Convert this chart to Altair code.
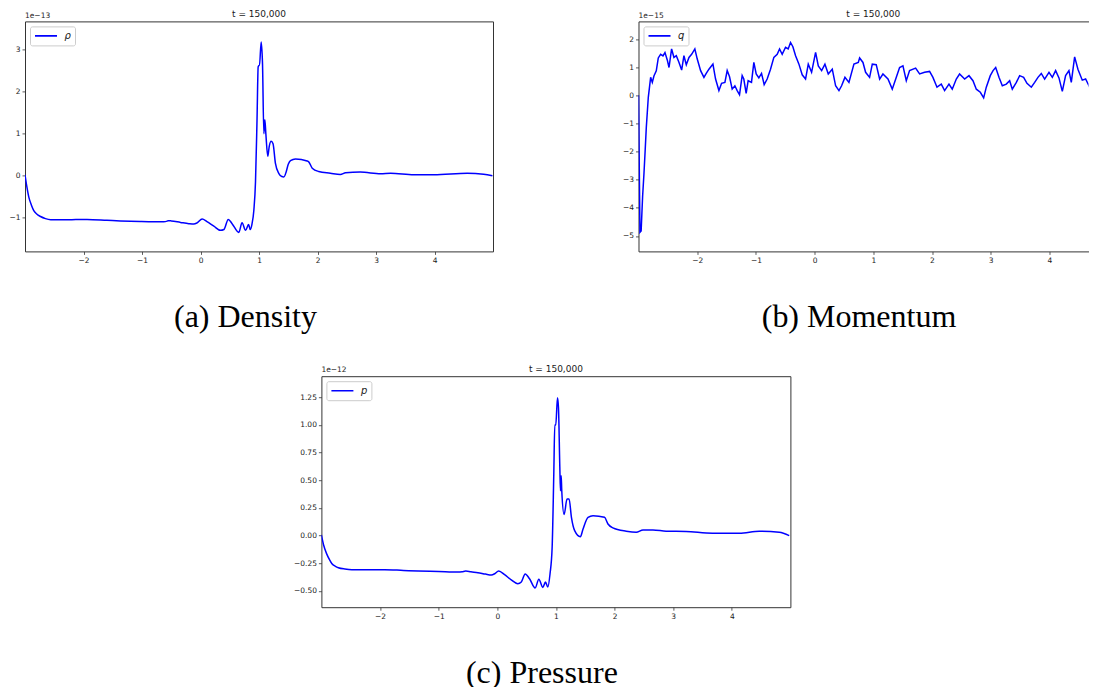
import altair as alt
import pandas as pd

# ---------------- data ----------------
rho_x = [-3.0, -2.97, -2.935, -2.89, -2.85, -2.80, -2.735, -2.65, -2.56, -2.4, -2.2, -1.94,
         -1.6, -1.37, -1.03, -0.8, -0.63, -0.57, -0.552, -0.5, -0.342, -0.2, -0.114, -0.057,
         0.028, 0.11, 0.228, 0.342, 0.4, 0.474, 0.54, 0.655, 0.71, 0.77, 0.822, 0.85, 0.88,
         0.912, 0.94, 0.966, 0.986, 1.0, 1.008, 1.037, 1.06, 1.083, 1.1, 1.117, 1.15, 1.175,
         1.208, 1.24, 1.28, 1.34, 1.39, 1.425, 1.464, 1.50, 1.538, 1.624, 1.823, 1.85, 1.91,
         2.02, 2.22, 2.39, 2.48, 2.73, 3.08, 3.25, 3.646, 3.99, 4.56, 4.84, 4.99]
rho_y = [0.02, -0.25, -0.51, -0.70, -0.83, -0.91, -0.97, -1.02, -1.045, -1.05, -1.045, -1.04,
         -1.06, -1.075, -1.09, -1.095, -1.095, -1.08, -1.07, -1.075, -1.11, -1.14, -1.15, -1.12,
         -1.03, -1.09, -1.20, -1.30, -1.28, -1.04, -1.14, -1.35, -1.12, -1.30, -1.16, -1.28, -1.15,
         -0.82, -0.15, 1.32, 2.59, 2.62, 2.62, 3.18, 2.66, 1.0, 1.33, 1.0, 0.46, 0.70,
         0.82, 0.76, 0.30, 0.05, -0.02, -0.03, 0.09, 0.27, 0.36, 0.40, 0.35, 0.33, 0.18,
         0.10, 0.06, 0.03, 0.07, 0.086, 0.047, 0.06, 0.023, 0.023, 0.06, 0.037, 0.0]

q_x = [-3.0, -2.975, -2.955, -2.93, -2.907, -2.885, -2.867, -2.85, -2.833, -2.793, -2.765,
       -2.737, -2.697, -2.663, -2.623, -2.583, -2.549, -2.51, -2.48, -2.436, -2.396, -2.356,
       -2.31, -2.265, -2.226, -2.186, -2.14, -2.095, -2.04, -1.999, -1.942, -1.885, -1.846,
       -1.80, -1.732, -1.687, -1.63, -1.585, -1.528, -1.489, -1.449, -1.404, -1.358, -1.319,
       -1.279, -1.234, -1.206, -1.166, -1.132, -1.075, -1.035, -0.995, -0.95, -0.904, -0.859,
       -0.808, -0.751, -0.694, -0.637, -0.597, -0.552, -0.495, -0.45, -0.41, -0.37, -0.324,
       -0.267, -0.211, -0.154, -0.108, -0.051, 0.017, 0.063, 0.12, 0.176, 0.233, 0.301, 0.358,
       0.415, 0.46, 0.517, 0.585, 0.67, 0.744, 0.767, 0.824, 0.869, 0.937, 0.983, 1.05, 1.108,
       1.164, 1.25, 1.323, 1.392, 1.448, 1.505, 1.562, 1.618, 1.721, 1.789, 1.874, 1.959,
       2.016, 2.085, 2.158, 2.215, 2.289, 2.345, 2.414, 2.47, 2.556, 2.63, 2.698, 2.755,
       2.823, 2.88, 2.925, 2.993, 3.04, 3.085, 3.141, 3.198, 3.266, 3.323, 3.368, 3.437,
       3.493, 3.561, 3.618, 3.692, 3.749, 3.805, 3.862, 3.919, 3.993, 4.05, 4.106, 4.163,
       4.22, 4.276, 4.333, 4.373, 4.43, 4.486, 4.56, 4.617, 4.674, 4.73, 4.787, 4.84]
q_y = [0.0, -4.87, -4.82, -3.6, -2.79, -1.9, -1.14, -0.6, -0.07, 0.64, 0.46,
       0.69, 0.87, 1.33, 1.46, 1.40, 1.52, 1.26, 0.99, 1.65, 1.35, 1.41,
       1.17, 0.90, 1.41, 1.09, 1.35, 1.46, 1.65, 1.29, 0.88, 0.64, 0.78,
       0.93, 1.11, 0.58, 0.17, 0.43, 0.46, 0.88, 0.66, 0.22, 0.34, 0.17,
       0.02, 0.70, 0.58, 0.07, 0.52, 0.46, 1.17, 0.76, 0.62, 0.78, 0.38,
       0.58, 0.93, 1.35, 1.46, 1.65, 1.46, 1.71, 1.65, 1.88, 1.73, 1.41,
       1.11, 0.73, 0.58, 1.11, 0.82, 1.53, 1.05, 0.88, 1.11, 0.76, 0.93, 0.34,
       0.17, 0.34, 0.64, 0.46, 1.11, 1.17, 1.33, 1.17, 0.82, 0.64, 1.11, 1.09, 0.58,
       0.76, 0.58, 0.22, 0.64, 0.99, 1.05, 0.52, 0.88, 0.97, 0.76, 0.82, 0.85,
       0.64, 0.29, 0.40, 0.17, 0.40, 0.22, 0.58, 0.76, 0.58, 0.70, 0.52, 0.22,
       0.11, -0.09, 0.29, 0.70, 0.88, 0.99, 0.64, 0.34, 0.40, 0.52, 0.22, 0.46,
       0.70, 0.64, 0.43, 0.29, 0.46, 0.64, 0.78, 0.58, 0.82, 0.64, 0.88, 0.62,
       0.14, 0.70, 0.88, 0.46, 1.37, 0.93, 0.54, 0.58, 0.34, 0.76, 0.70, 0.73]

p_x = [-3.0, -2.96, -2.91, -2.86, -2.82, -2.76, -2.71, -2.6, -2.48, -2.2, -1.92, -1.6,
       -1.35, -1.0, -0.668, -0.6, -0.538, -0.45, -0.33, -0.2, -0.10, -0.045, 0.024, 0.125,
       0.238, 0.35, 0.41, 0.476, 0.55, 0.646, 0.709, 0.777, 0.822, 0.862, 0.90, 0.936,
       0.964, 0.981, 0.998, 1.027, 1.044, 1.067, 1.078, 1.09, 1.1, 1.14, 1.19, 1.225,
       1.265, 1.32, 1.418, 1.463, 1.548, 1.633, 1.83, 1.888, 1.973, 2.2, 2.37, 2.486,
       2.656, 2.88, 3.22, 3.67, 4.13, 4.47, 4.81, 4.98]
p_y = [0.005, -0.09, -0.165, -0.22, -0.255, -0.278, -0.29, -0.302, -0.308, -0.308, -0.308, -0.315,
       -0.32, -0.325, -0.33, -0.327, -0.32, -0.327, -0.335, -0.348, -0.356, -0.345, -0.32, -0.353,
       -0.40, -0.435, -0.42, -0.347, -0.39, -0.473, -0.395, -0.468, -0.42, -0.465, -0.345, -0.105,
       0.555, 1.0, 1.0, 1.245, 1.155, 0.615, 0.405, 0.54, 0.405, 0.19, 0.33, 0.33,
       0.165, 0.045, -0.01, 0.06, 0.165, 0.18, 0.165, 0.105, 0.07, 0.04, 0.03, 0.05,
       0.051, 0.04, 0.037, 0.021, 0.021, 0.04, 0.03, 0.0]

x_ticks = [-2, -1, 0, 1, 2, 3, 4]
rho_ticks = [-1, 0, 1, 2, 3]
q_ticks = [-5, -4, -3, -2, -1, 0, 1, 2]
p_ticks = [-0.5, -0.25, 0.0, 0.25, 0.5, 0.75, 1.0, 1.25]

panel_title = "t = 150,000"
captions = ["(a) Density", "(b) Momentum", "(c) Pressure"]
names = ["ρ", "q", "p"]
exponents = ["1e\u221213", "1e\u221215", "1e\u221212"]

SANS = "DejaVu Sans"
SERIF = "Liberation Serif"
BLUE = "#0000ff"
INK = "#1a1a1a"
SPINE = "#333333"


def panel(xs, ys, name, caption, exponent, xdom, ydom, yticks, yfmt, w, h, interp,
          open_right=False, title_x=None):
    df = pd.DataFrame({"x": xs, "y": ys, "series": name})
    xscale = alt.Scale(domain=xdom, nice=False, zero=False)
    yscale = alt.Scale(domain=ydom, nice=False, zero=False)
    line = alt.Chart(df).mark_line(strokeWidth=1.5, interpolate=interp, clip=True).encode(
        x=alt.X("x:Q", scale=xscale,
                axis=alt.Axis(values=x_ticks, format="d", title=caption,
                              titleFont=SERIF, titleFontSize=32, titleFontWeight="normal",
                              titleColor="black", titleX=220, titleY=75,
                              titleAlign="center", titleBaseline="alphabetic",
                              domain=open_right, domainColor=SPINE, domainWidth=1)),
        y=alt.Y("y:Q", scale=yscale,
                axis=alt.Axis(values=yticks, format=yfmt, title=None,
                              domain=open_right, domainColor=SPINE, domainWidth=1)),
        color=alt.Color("series:N", scale=alt.Scale(range=[BLUE]),
                        legend=alt.Legend(title=None, orient="top-left", offset=4.5,
                                          padding=4, strokeColor="#cccccc",
                                          fillColor="white", cornerRadius=2,
                                          symbolType="stroke", symbolSize=484,
                                          symbolStrokeWidth=1.6, clipHeight=11,
                                          labelOffset=6.5, labelFont=SANS,
                                          labelFontSize=10, labelFontStyle="italic",
                                          labelColor=INK)),
    )
    notes = pd.DataFrame({"title": [panel_title], "exp": [exponent]})
    title_txt = alt.Chart(notes).mark_text(
        font=SANS, fontSize=9, baseline="alphabetic", align="center", color=INK
    ).encode(text="title:N", x=alt.value(title_x if title_x is not None else w / 2),
             y=alt.value(-4.3))
    exp_txt = alt.Chart(notes).mark_text(
        font=SANS, fontSize=7.5, baseline="alphabetic", align="left", color=INK
    ).encode(text="exp:N", x=alt.value(0), y=alt.value(-3.7))
    layers = [line, title_txt, exp_txt]
    if open_right:
        top = alt.Chart(df).mark_rule(opacity=0, clip=True).encode(
            x=alt.X("x:Q", scale=xscale,
                    axis=alt.Axis(orient="top", labels=False, ticks=False, title=None,
                                  domain=True, domainColor=SPINE, domainWidth=1)))
        layers.append(top)
        return alt.layer(*layers).resolve_axis(x="independent").properties(
            width=w, height=h, view=alt.ViewBackground(stroke="transparent"))
    return alt.layer(*layers).properties(width=w, height=h)


a = panel(rho_x, rho_y, names[0], captions[0], exponents[0], [-3, 5], [-1.80, 3.67],
          rho_ticks, "d", 468, 230, "monotone")
b = panel(q_x, q_y, names[1], captions[1], exponents[1], [-3, 4.666], [-5.55, 2.63],
          q_ticks, "d", 450, 230, "linear", open_right=True, title_x=234.8)
c = panel(p_x, p_y, names[2], captions[2], exponents[2], [-3, 5], [-0.647, 1.44],
          p_ticks, ".2f", 469, 231, "monotone")

spacer = alt.Chart(pd.DataFrame({"x": [0]})).mark_point(opacity=0).encode(
    x=alt.X("x:Q", axis=None), y=alt.Y("x:Q", axis=None)
).properties(width=100, height=231, view=alt.ViewBackground(stroke="transparent"))

row1 = alt.hconcat(a, b, spacing=145.5, bounds="flush").resolve_scale(color="independent")
row2 = alt.hconcat(spacer, c, spacing=196.4, bounds="flush").resolve_scale(color="independent")

chart = alt.vconcat(row1, row2, spacing=30.8).resolve_scale(color="independent").properties(
    padding={"left": 0, "top": 1.4, "right": 0, "bottom": 6}
).configure(font=SANS).configure_view(
    stroke=SPINE, strokeWidth=1
).configure_axis(
    labelFont=SANS, labelFontSize=7.5, labelColor=INK, tickColor=SPINE,
    tickSize=3, tickWidth=0.8, labelPadding=2, grid=False, domain=False
)

chart.save("out.html", embed_options={"renderer": "svg", "actions": False})
